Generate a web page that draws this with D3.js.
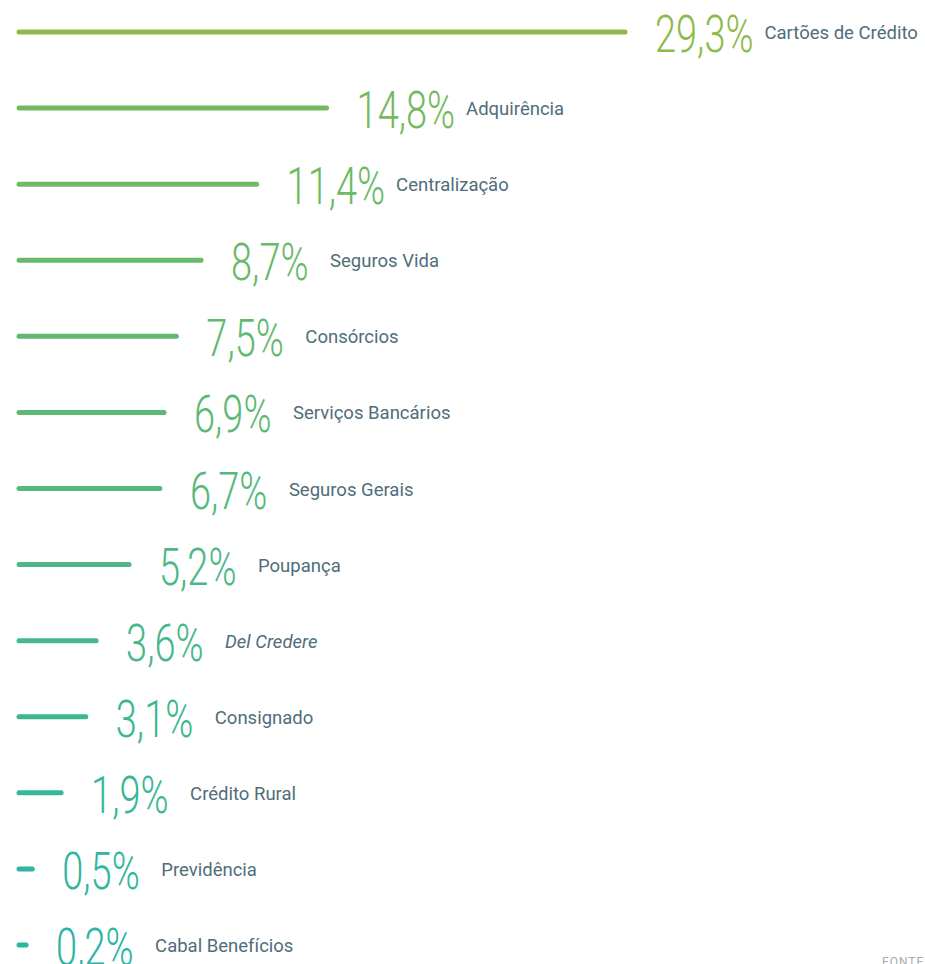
<!DOCTYPE html>
<html>
<head>
	<meta charset="utf-8">
	<title>Receitas</title>
	<style type="text/css">
		body { margin: 0; background: #fff; }
		text { font-family: "Roboto", "Noto Sans", sans-serif; }
		.pct { font-weight: 300; font-size: 52px; }
		.label { font-size: 18.5px; fill: #4f6d7a; }
		.fonte { font-size: 12px; fill: #a7a9ab; letter-spacing: 1px; }
	</style>
</head>
<body>
	<svg id="chart"></svg>

	<script src="https://cdnjs.cloudflare.com/ajax/libs/d3/7.8.5/d3.min.js"></script>
	<script type="text/javascript">
		var categories = ['Cartões de Crédito', 'Adquirência', 'Centralização', 'Seguros Vida', 'Consórcios',
			'Serviços Bancários', 'Seguros Gerais', 'Poupança', 'Del Credere', 'Consignado',
			'Crédito Rural', 'Previdência', 'Cabal Benefícios'];
		var values = [29.3, 14.8, 11.4, 8.7, 7.5, 6.9, 6.7, 5.2, 3.6, 3.1, 1.9, 0.5, 0.2];
		var italicLabels = ['Del Credere'];

		var width = 925;
		var height = 964;

		var data = categories.map(function(c, i) {
			return { name: c, value: values[i], index: i };
		});

		var svg = d3.select('#chart')
			.attr('width', width)
			.attr('height', height);

		var x = d3.scaleLinear().domain([0, 29.3]).range([22, 625]);
		var y = d3.scalePoint().domain(categories).range([32, 945]);
		// green at the top fading to teal at the bottom
		var color = d3.scaleLinear()
			.domain([0, 1, 5, 9, 12])
			.range(['#8cbb4a', '#74b95e', '#5db877', '#3db790', '#2ab6a2'])
			.interpolate(d3.interpolateRgb);

		var fmt = function(v) {
			return d3.format('.1f')(v).replace('.', ',') + '%';
		};

		var rows = svg.selectAll('.row').data(data)
			.enter()
			.append('g')
			.attr('class', 'row')
			.attr('transform', function(d) {
				return 'translate(0,' + y(d.name) + ')';
			});

		rows.append('line')
			.attr('x1', 19)
			.attr('x2', function(d) { return x(d.value); })
			.attr('y1', 0)
			.attr('y2', 0)
			.attr('stroke', function(d) { return color(d.index); })
			.attr('stroke-width', 5)
			.attr('stroke-linecap', 'round');

		// condensed look: squeeze a light Roboto horizontally
		var squeeze = 0.73;
		rows.each(function(d) {
			var g = d3.select(this);
			var px = x(d.value) + 30;
			var t = g.append('text')
				.attr('class', 'pct')
				.attr('fill', color(d.index))
				.attr('transform', 'translate(' + px + ',20) scale(' + squeeze + ',1)')
				.text(fmt(d.value));
			var w = t.node().getComputedTextLength() * squeeze;
			g.append('text')
				.attr('class', 'label')
				.attr('x', px + Math.max(w + 11, 99))
				.attr('y', 7)
				.style('font-style', italicLabels.indexOf(d.name) >= 0 ? 'italic' : 'normal')
				.text(d.name);
		});

		svg.append('text')
			.attr('class', 'fonte')
			.attr('x', 882)
			.attr('y', 966)
			.text('FONTE:');
	</script>
</body>
</html>
